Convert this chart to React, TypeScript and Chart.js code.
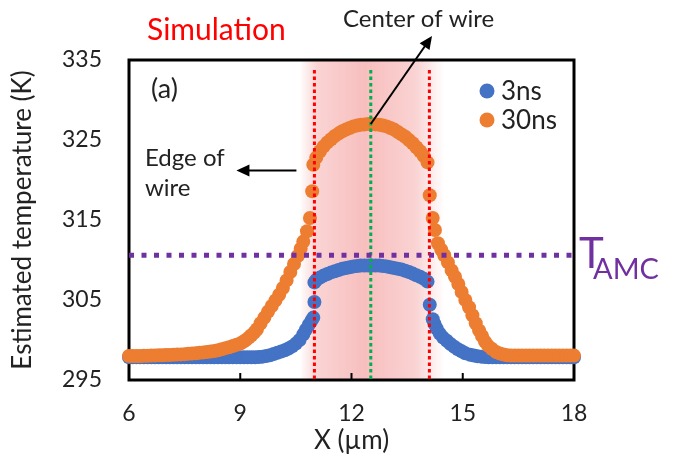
import React, { useEffect, useRef } from "react";
import { Chart, registerables } from "chart.js";

Chart.register(...registerables);

// ---------------- data ----------------
const X_TICKS = [6, 9, 12, 15, 18];
const Y_TICKS = [295, 305, 315, 325, 335];
const SERIES_LABELS = ["3ns", "30ns"];
const SERIES_COLORS = ["#4472C4", "#ED7D31"];
const X_TITLE = "X (µm)";
const Y_TITLE = "Estimated temperature (K)";

// [X (µm), T (K)] for 3 ns
const TEMP_3NS: [number, number][] = [
  [6.0, 297.85], [6.1, 297.85], [6.2, 297.85], [6.3, 297.85], [6.4, 297.85], [6.5, 297.85],
  [6.6, 297.85], [6.7, 297.85], [6.8, 297.85], [6.9, 297.85], [7.0, 297.85], [7.1, 297.85],
  [7.2, 297.85], [7.3, 297.85], [7.4, 297.85], [7.5, 297.85], [7.6, 297.85], [7.7, 297.85],
  [7.8, 297.85], [7.9, 297.85], [8.0, 297.85], [8.1, 297.85], [8.2, 297.85], [8.3, 297.85],
  [8.4, 297.85], [8.5, 297.85], [8.6, 297.85], [8.7, 297.85], [8.8, 297.85], [8.9, 297.85],
  [9.0, 297.85], [9.1, 297.85], [9.2, 297.85], [9.3, 297.85], [9.4, 297.85], [9.5, 297.87],
  [9.6, 297.92], [9.7, 298.0], [9.8, 298.1], [9.9, 298.25], [10.0, 298.4], [10.1, 298.55],
  [10.2, 298.72], [10.3, 298.93], [10.4, 299.2], [10.5, 299.55], [10.6, 300.0],
  [10.7, 300.7], [10.77, 301.3], [10.85, 301.9], [10.92, 302.4], [10.97, 302.8],
  [11.0, 304.75], [11.0, 307.2],
  [11.05, 307.5], [11.15, 307.8], [11.25, 308.05], [11.35, 308.25], [11.45, 308.45],
  [11.55, 308.6], [11.65, 308.75], [11.75, 308.9], [11.85, 309.0], [11.95, 309.1],
  [12.05, 309.2], [12.15, 309.25], [12.25, 309.3], [12.35, 309.3], [12.45, 309.3],
  [12.55, 309.3], [12.65, 309.3], [12.75, 309.3], [12.85, 309.25], [12.95, 309.2],
  [13.05, 309.1], [13.15, 309.0], [13.25, 308.9], [13.35, 308.8], [13.45, 308.65],
  [13.55, 308.5], [13.65, 308.3], [13.75, 308.1], [13.85, 307.9], [13.95, 307.65],
  [14.05, 307.3], [14.11, 304.4], [14.19, 302.6], [14.24, 302.0], [14.3, 301.4],
  [14.38, 300.8], [14.47, 300.3], [14.57, 299.9], [14.67, 299.5], [14.77, 299.15],
  [14.87, 298.85], [14.97, 298.6], [15.07, 298.35], [15.2, 298.15], [15.3, 298.05],
  [15.4, 297.97], [15.5, 297.92], [15.6, 297.88], [15.7, 297.85], [15.8, 297.85],
  [15.9, 297.85], [16.0, 297.85], [16.1, 297.85], [16.2, 297.85], [16.3, 297.85],
  [16.4, 297.85], [16.5, 297.85], [16.6, 297.85], [16.7, 297.85], [16.8, 297.85],
  [16.9, 297.85], [17.0, 297.85], [17.1, 297.85], [17.2, 297.85], [17.3, 297.85],
  [17.4, 297.85], [17.5, 297.85], [17.6, 297.85], [17.7, 297.85], [17.8, 297.85],
  [17.9, 297.85], [18.0, 297.85],
];

// [X (µm), T (K)] for 30 ns
const TEMP_30NS: [number, number][] = [
  [6.0, 298.0], [6.1, 298.0], [6.2, 298.0], [6.3, 298.0], [6.4, 298.02], [6.5, 298.03],
  [6.6, 298.05], [6.7, 298.07], [6.8, 298.08], [6.9, 298.1], [7.0, 298.12], [7.1, 298.14],
  [7.2, 298.16], [7.3, 298.18], [7.4, 298.2], [7.5, 298.23], [7.6, 298.27], [7.7, 298.31],
  [7.8, 298.35], [7.9, 298.4], [8.0, 298.45], [8.1, 298.5], [8.2, 298.56], [8.3, 298.63],
  [8.4, 298.72], [8.5, 298.85], [8.6, 298.98], [8.7, 299.1], [8.8, 299.25], [8.9, 299.4],
  [9.0, 299.57], [9.08, 299.78], [9.15, 300.0], [9.23, 300.3], [9.3, 300.6], [9.38, 300.95],
  [9.45, 301.35], [9.55, 302.1], [9.65, 302.8], [9.75, 303.55], [9.85, 304.25],
  [9.95, 304.95], [10.05, 305.65], [10.15, 306.5], [10.25, 307.45], [10.35, 308.5],
  [10.45, 309.5], [10.55, 310.5], [10.63, 311.4], [10.7, 312.3], [10.8, 313.6],
  [10.88, 315.25], [10.94, 318.6], [10.97, 321.9],
  [11.05, 322.8], [11.15, 323.6], [11.25, 324.2], [11.35, 324.7], [11.45, 325.1],
  [11.55, 325.5], [11.65, 325.8], [11.75, 326.1], [11.85, 326.3], [11.95, 326.5],
  [12.05, 326.7], [12.15, 326.8], [12.25, 326.9], [12.35, 326.95], [12.45, 327.0],
  [12.55, 327.0], [12.65, 326.95], [12.75, 326.9], [12.85, 326.8], [12.95, 326.7],
  [13.05, 326.5], [13.15, 326.3], [13.25, 326.0], [13.35, 325.7], [13.45, 325.4],
  [13.55, 325.0], [13.65, 324.6], [13.75, 324.1], [13.85, 323.6], [13.95, 323.0],
  [14.05, 322.2], [14.11, 318.1], [14.19, 315.25], [14.25, 313.75], [14.33, 312.1],
  [14.42, 311.3], [14.5, 310.6], [14.6, 309.7], [14.7, 308.7], [14.79, 307.9],
  [14.88, 307.0], [14.97, 306.0], [15.07, 305.0], [15.17, 304.1], [15.26, 303.1],
  [15.35, 302.1], [15.44, 301.2], [15.52, 300.5], [15.6, 299.8], [15.68, 299.3],
  [15.78, 298.9], [15.9, 298.5], [16.0, 298.3], [16.1, 298.18], [16.2, 298.1],
  [16.3, 298.05], [16.4, 298.05], [16.5, 298.05], [16.6, 298.05], [16.7, 298.05],
  [16.8, 298.05], [16.9, 298.05], [17.0, 298.05], [17.1, 298.05], [17.2, 298.05],
  [17.3, 298.05], [17.4, 298.05], [17.5, 298.05], [17.6, 298.05], [17.7, 298.05],
  [17.8, 298.05], [17.9, 298.05], [18.0, 298.05],
];

const WIRE_EDGES = [11.0, 14.1];
const WIRE_CENTER = 12.52;
const WIRE_BAND = [10.6, 14.5];
const T_AMC = 310.6;
const PEAK_30NS: [number, number] = [12.52, 327.0];

const FONT = "Lato, 'Open Sans', sans-serif";
const TEXT = "#222";

function drawArrow(ctx: CanvasRenderingContext2D, x1: number, y1: number, x2: number, y2: number) {
  const ang = Math.atan2(y2 - y1, x2 - x1);
  const len = 13;
  const hw = 6;
  ctx.save();
  ctx.strokeStyle = "#000";
  ctx.fillStyle = "#000";
  ctx.lineWidth = 2;
  ctx.beginPath();
  ctx.moveTo(x1, y1);
  ctx.lineTo(x2 - Math.cos(ang) * len * 0.8, y2 - Math.sin(ang) * len * 0.8);
  ctx.stroke();
  ctx.beginPath();
  ctx.moveTo(x2, y2);
  ctx.lineTo(x2 - Math.cos(ang) * len - Math.sin(ang) * hw, y2 - Math.sin(ang) * len + Math.cos(ang) * hw);
  ctx.lineTo(x2 - Math.cos(ang) * len + Math.sin(ang) * hw, y2 - Math.sin(ang) * len - Math.cos(ang) * hw);
  ctx.closePath();
  ctx.fill();
  ctx.restore();
}

const decoPlugin = {
  id: "deco",
  beforeDatasetsDraw(chart: any) {
    const { ctx, chartArea: a, scales } = chart;
    const xs = scales.x;
    const bl = xs.getPixelForValue(WIRE_BAND[0]);
    const br = xs.getPixelForValue(WIRE_BAND[1]);
    const g = ctx.createLinearGradient(bl, 0, br, 0);
    g.addColorStop(0, "rgba(240,120,120,0)");
    g.addColorStop(0.12, "rgba(240,120,120,0.32)");
    g.addColorStop(0.45, "rgba(240,120,120,0.48)");
    g.addColorStop(0.8, "rgba(240,120,120,0.33)");
    g.addColorStop(1, "rgba(240,120,120,0)");
    ctx.save();
    ctx.fillStyle = g;
    ctx.fillRect(bl, a.top, br - bl, a.bottom - a.top);
    ctx.strokeStyle = "#000";
    ctx.lineWidth = 3;
    ctx.strokeRect(a.left, a.top, a.right - a.left, a.bottom - a.top);
    ctx.lineWidth = 2;
    X_TICKS.forEach((v) => {
      const px = xs.getPixelForValue(v);
      ctx.beginPath();
      ctx.moveTo(px, a.bottom);
      ctx.lineTo(px, a.bottom - 7);
      ctx.stroke();
    });
    ctx.restore();
  },
  afterDatasetsDraw(chart: any) {
    const { ctx, chartArea: a, scales } = chart;
    const xs = scales.x;
    const ys = scales.y;
    ctx.save();
    ctx.lineWidth = 3;
    ctx.setLineDash([3.5, 3]);
    ctx.strokeStyle = "#FF0000";
    WIRE_EDGES.forEach((v) => {
      const px = xs.getPixelForValue(v);
      ctx.beginPath();
      ctx.moveTo(px, a.top + 10);
      ctx.lineTo(px, a.bottom);
      ctx.stroke();
    });
    ctx.strokeStyle = "#00B050";
    const cx = xs.getPixelForValue(WIRE_CENTER);
    ctx.beginPath();
    ctx.moveTo(cx, a.top + 10);
    ctx.lineTo(cx, a.bottom);
    ctx.stroke();
    ctx.strokeStyle = "#7030A0";
    ctx.lineWidth = 5;
    ctx.setLineDash([5, 7.5]);
    const ty = ys.getPixelForValue(T_AMC);
    ctx.beginPath();
    ctx.moveTo(a.left, ty);
    ctx.lineTo(a.right, ty);
    ctx.stroke();
    ctx.setLineDash([]);

    ctx.textBaseline = "alphabetic";
    ctx.textAlign = "left";
    ctx.fillStyle = "#FF0000";
    ctx.font = `30px ${FONT}`;
    ctx.fillText("Simulation", 147, 40);

    ctx.fillStyle = TEXT;
    ctx.font = `27px ${FONT}`;
    ctx.fillText("(a)", 151, 98);

    ctx.font = `24px ${FONT}`;
    ctx.fillText("Edge of", 145, 166);
    ctx.fillText("wire", 145, 196);
    ctx.fillText("Center of wire", 343, 27);

    const edgeY = ys.getPixelForValue(321.2);
    drawArrow(ctx, xs.getPixelForValue(WIRE_EDGES[0]) - 18, edgeY, xs.getPixelForValue(WIRE_EDGES[0]) - 78, edgeY);
    drawArrow(ctx, xs.getPixelForValue(PEAK_30NS[0]), ys.getPixelForValue(PEAK_30NS[1]), 432, 36);

    ctx.font = `26px ${FONT}`;
    SERIES_LABELS.forEach((lab, i) => {
      const y = 91 + i * 29;
      ctx.fillStyle = SERIES_COLORS[i];
      ctx.beginPath();
      ctx.arc(487, y, 7.5, 0, Math.PI * 2);
      ctx.fill();
      ctx.fillStyle = TEXT;
      ctx.textBaseline = "middle";
      ctx.fillText(lab, 501, y + 1);
    });

    ctx.textBaseline = "alphabetic";
    ctx.fillStyle = "#7030A0";
    ctx.font = `42px ${FONT}`;
    ctx.fillText("T", 579, 268);
    ctx.font = `29px ${FONT}`;
    ctx.fillText("AMC", 593, 279);
    ctx.restore();
  },
};

export default function App() {
  const ref = useRef<HTMLCanvasElement | null>(null);
  useEffect(() => {
    if (!ref.current) return;
    const chart = new Chart(ref.current, {
      type: "scatter",
      data: {
        datasets: [
          {
            label: SERIES_LABELS[0],
            data: TEMP_3NS.map(([x, y]) => ({ x, y })),
            backgroundColor: SERIES_COLORS[0],
            borderWidth: 0,
            pointRadius: 7,
            order: 1,
            clip: false as any,
          },
          {
            label: SERIES_LABELS[1],
            data: TEMP_30NS.map(([x, y]) => ({ x, y })),
            backgroundColor: SERIES_COLORS[1],
            borderWidth: 0,
            pointRadius: 7,
            order: 0,
            clip: false as any,
          },
        ],
      },
      options: {
        responsive: false,
        animation: false,
        events: [],
        layout: { padding: { left: 0, top: 60, right: 99, bottom: 0 } },
        plugins: { legend: { display: false }, tooltip: { enabled: false } },
        scales: {
          x: {
            type: "linear",
            min: X_TICKS[0],
            max: X_TICKS[X_TICKS.length - 1],
            afterFit: (s: any) => { s.height = 79; },
            afterBuildTicks: (s: any) => { s.ticks = X_TICKS.map((v) => ({ value: v })); },
            grid: { display: false, drawTicks: false },
            border: { display: false },
            ticks: { font: { family: FONT, size: 23 }, color: TEXT, padding: 20, maxRotation: 0, autoSkip: false },
            title: { display: true, text: X_TITLE, color: TEXT, font: { family: FONT, size: 26 }, padding: { top: 0, bottom: 3 } },
          },
          y: {
            type: "linear",
            min: Y_TICKS[0],
            max: Y_TICKS[Y_TICKS.length - 1],
            afterFit: (s: any) => { s.width = 129; },
            afterBuildTicks: (s: any) => { s.ticks = Y_TICKS.map((v) => ({ value: v })); },
            grid: { display: false, drawTicks: false },
            border: { display: false },
            ticks: { font: { family: FONT, size: 23 }, color: TEXT, padding: 27, autoSkip: false },
            title: { display: true, text: Y_TITLE, color: TEXT, font: { family: FONT, size: 26 }, padding: { top: 7, bottom: 0 } },
          },
        },
      },
      plugins: [decoPlugin],
    });
    return () => chart.destroy();
  }, []);
  return (
    <div style={{ position: "absolute", left: 0, top: 0, width: 673, height: 459, background: "#fff" }}>
      <canvas ref={ref} width={673} height={459} />
    </div>
  );
}
